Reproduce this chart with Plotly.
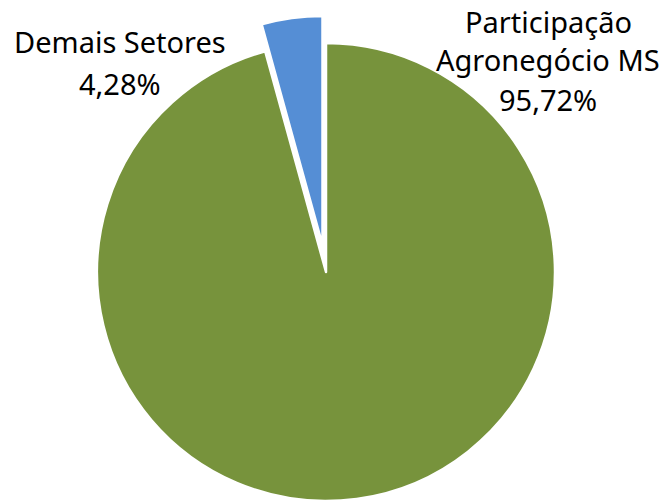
import plotly.graph_objects as go

categories = ["Participação Agronegócio MS", "Demais Setores"]
values = [95.72, 4.28]
label_left = ["Demais Setores", "4,28%"]
label_right = ["Participação", "Agronegócio MS", "95,72%"]

GREEN = "#77933C"
BLUE = "#558ED5"
W, H = 659, 501

def px_x(x):
    return x / W

def px_y(y):
    return (H - y) / H

fig = go.Figure()

# main (green) slice
fig.add_trace(go.Pie(
    labels=categories, values=values, sort=False, direction="clockwise", rotation=0,
    marker=dict(colors=[GREEN, "rgba(0,0,0,0)"],
                line=dict(color=["white", "rgba(0,0,0,0)"], width=[2.5, 0])),
    textinfo="none", hoverinfo="label+percent", showlegend=False,
    domain=dict(x=[px_x(97), px_x(555)], y=[px_y(501), px_y(43)]),
))
# exploded (blue) slice
fig.add_trace(go.Pie(
    labels=categories, values=values, sort=False, direction="clockwise", rotation=0,
    marker=dict(colors=["rgba(0,0,0,0)", BLUE],
                line=dict(color=["rgba(0,0,0,0)", "white"], width=[0, 2.5])),
    textinfo="none", hoverinfo="label+percent", showlegend=False,
    domain=dict(x=[px_x(93.5), px_x(551.5)], y=[px_y(474), px_y(16)]),
))

FONT = dict(family="Noto Sans", size=29, color="black")
left_y = [41, 83]
for t, y in zip(label_left, left_y):
    fig.add_annotation(text=t, x=px_x(120), y=px_y(y), xref="paper", yref="paper",
                       xanchor="center", yanchor="middle", showarrow=False, font=FONT)
right_y = [21, 60, 100]
for t, y in zip(label_right, right_y):
    fig.add_annotation(text=t, x=px_x(548), y=px_y(y), xref="paper", yref="paper",
                       xanchor="center", yanchor="middle", showarrow=False, font=FONT)

fig.update_layout(width=W, height=H, margin=dict(l=0, r=0, t=0, b=0),
                  paper_bgcolor="white", plot_bgcolor="white")
fig.write_html("out.html", config={"displayModeBar": False},
               post_script="document.body.style.margin='0';document.body.style.overflow='hidden';")
